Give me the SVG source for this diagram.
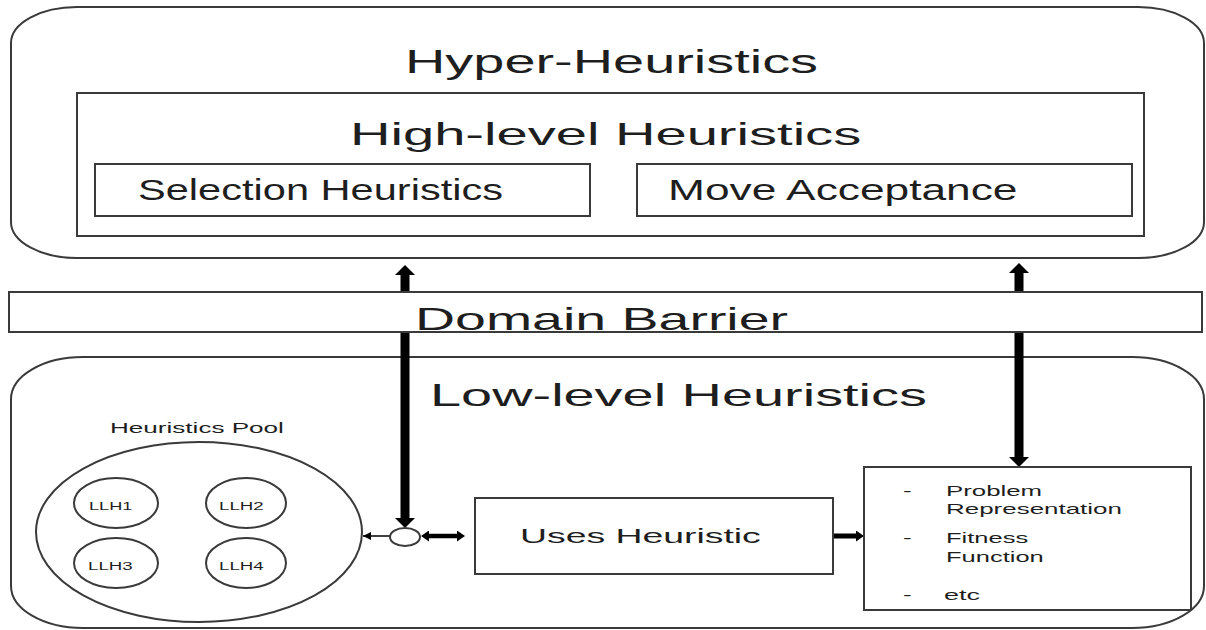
<svg xmlns="http://www.w3.org/2000/svg" width="1206" height="630" viewBox="0 0 1206 630">
<style>
.box{fill:#fff;stroke:#3a3a3a;stroke-width:2}
.t{font-family:"Liberation Sans",Arial,sans-serif;fill:#1e1e1e}
.thick{stroke:#000;fill:none}
</style>
<defs>
<marker id="ah" viewBox="0 0 10 10" refX="0" refY="5" markerWidth="10" markerHeight="20" orient="auto-start-reverse" markerUnits="userSpaceOnUse" preserveAspectRatio="none"><path d="M0,0 L10,5 L0,10 z" fill="#000"/></marker>
<marker id="ahs" viewBox="0 0 10 10" refX="0" refY="5" markerWidth="8" markerHeight="11" orient="auto-start-reverse" markerUnits="userSpaceOnUse" preserveAspectRatio="none"><path d="M0,0 L10,5 L0,10 z" fill="#000"/></marker>
<marker id="ahthin" viewBox="0 0 10 10" refX="10" refY="5" markerWidth="8" markerHeight="8" orient="auto" markerUnits="userSpaceOnUse" preserveAspectRatio="none"><path d="M0,0 L10,5 L0,10 z" fill="#000"/></marker>
</defs>

<g id="hyper">
<rect class="box" x="11" y="7" width="1193" height="251" rx="66" ry="36"/>
<text class="t" font-size="33" transform="translate(405,73) scale(1.694,1)">Hyper-Heuristics</text>
</g>
<g id="high-level">
<rect class="box" x="77" y="93" width="1067" height="143"/>
<text class="t" font-size="31" transform="translate(350,145) scale(1.81,1)">High-level Heuristics</text>
</g>
<g id="selection">
<rect class="box" x="95" y="164" width="495" height="52"/>
<text class="t" font-size="30" transform="translate(138,200) scale(1.386,1)">Selection Heuristics</text>
</g>
<g id="move-acceptance">
<rect class="box" x="637" y="164" width="495" height="52"/>
<text class="t" font-size="30" transform="translate(668,200) scale(1.476,1)">Move Acceptance</text>
</g>

<g id="low-level">
<rect class="box" x="11" y="357" width="1193" height="271" rx="72" ry="42"/>
<text class="t" font-size="32" transform="translate(430,406) scale(1.747,1)">Low-level Heuristics</text>
</g>

<g id="connectors">
<line class="thick" x1="405" y1="518" x2="405" y2="275" stroke-width="9" marker-start="url(#ah)" marker-end="url(#ah)"/>
<line class="thick" x1="1019" y1="457" x2="1019" y2="273" stroke-width="9" marker-start="url(#ah)" marker-end="url(#ah)"/>
<line class="thick" x1="429" y1="536" x2="457" y2="536" stroke-width="4.5" marker-start="url(#ahs)" marker-end="url(#ahs)"/>
<line class="thick" x1="833" y1="536" x2="856" y2="536" stroke-width="5" marker-end="url(#ahs)"/>
<line x1="390" y1="536" x2="363" y2="536" stroke="#000" stroke-width="1.5" marker-end="url(#ahthin)"/>
</g>

<g id="domain-barrier">
<rect class="box" x="9" y="292" width="1193" height="40"/>
<text class="t" font-size="32" transform="translate(415,330) scale(1.734,1)">Domain Barrier</text>
</g>

<g id="heuristics-pool">
<text class="t" font-size="15" transform="translate(110,433) scale(1.74,1)">Heuristics Pool</text>
<ellipse class="box" cx="199" cy="532" rx="163" ry="90"/>
</g>
<g id="llh1">
<ellipse class="box" cx="116" cy="503" rx="42" ry="25"/>
<text class="t" font-size="11" transform="translate(89,510) scale(1.65,1)">LLH1</text>
</g>
<g id="llh2">
<ellipse class="box" cx="246" cy="503" rx="40" ry="25"/>
<text class="t" font-size="11" transform="translate(219,510) scale(1.7,1)">LLH2</text>
</g>
<g id="llh3">
<ellipse class="box" cx="116" cy="563" rx="42" ry="25"/>
<text class="t" font-size="11" transform="translate(88,570) scale(1.7,1)">LLH3</text>
</g>
<g id="llh4">
<ellipse class="box" cx="246" cy="563" rx="40" ry="25"/>
<text class="t" font-size="11" transform="translate(219,570) scale(1.7,1)">LLH4</text>
</g>

<g id="junction">
<ellipse class="box" cx="405" cy="537" rx="15" ry="9"/>
</g>

<g id="uses-heuristic">
<rect class="box" x="475" y="498" width="358" height="76"/>
<text class="t" font-size="21" transform="translate(520,543) scale(1.78,1)">Uses Heuristic</text>
</g>

<g id="problem-domain">
<rect class="box" x="864" y="467" width="327" height="143"/>
<text class="t" font-size="15" transform="translate(903,496) scale(1.72,1)">-</text>
<text class="t" font-size="15" transform="translate(946,496) scale(1.72,1)">Problem</text>
<text class="t" font-size="15" transform="translate(946,514) scale(1.73,1)">Representation</text>
<text class="t" font-size="15" transform="translate(903,543) scale(1.72,1)">-</text>
<text class="t" font-size="15" transform="translate(946,543) scale(1.70,1)">Fitness</text>
<text class="t" font-size="15" transform="translate(946,562) scale(1.70,1)">Function</text>
<text class="t" font-size="15" transform="translate(903,600) scale(1.72,1)">-</text>
<text class="t" font-size="15" transform="translate(944,600) scale(1.8,1)">etc</text>
</g>
</svg>
